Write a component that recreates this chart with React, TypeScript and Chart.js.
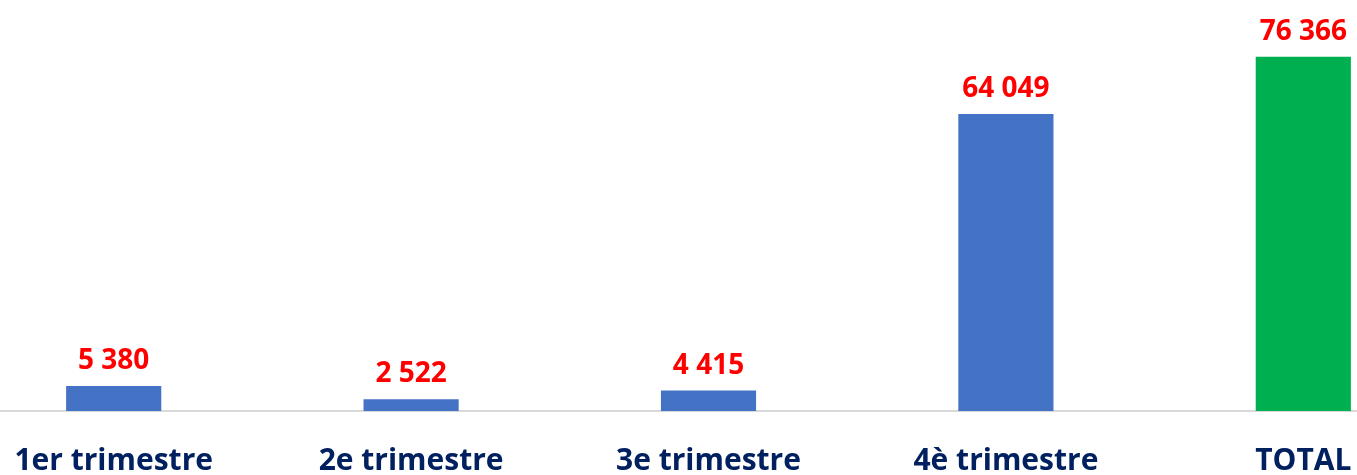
import React, { useEffect, useRef } from "react";
import { Chart, registerables } from "chart.js";

Chart.register(...registerables);

const categories = ["1er trimestre", "2e trimestre", "3e trimestre", "4è trimestre", "TOTAL"];
const values = [5380, 2522, 4415, 64049, 76366];
const valueLabels = ["5 380", "2 522", "4 415", "64 049", "76 366"];
const barColors = ["#4472C4", "#4472C4", "#4472C4", "#4472C4", "#00B050"];

const FONT = "'Open Sans', 'Noto Sans', sans-serif";

const labelPlugin = {
  id: "valueLabels",
  afterDatasetsDraw(chart: any) {
    const ctx = chart.ctx;
    const meta = chart.getDatasetMeta(0);
    ctx.save();
    ctx.fillStyle = "#FF0000";
    ctx.font = `bold 28px ${FONT}`;
    ctx.textAlign = "center";
    ctx.textBaseline = "alphabetic";
    meta.data.forEach((bar: any, i: number) => {
      ctx.fillText(valueLabels[i], bar.x, bar.y - 17);
    });
    ctx.restore();
  },
};

export default function App() {
  const ref = useRef<HTMLCanvasElement>(null);
  useEffect(() => {
    const chart = new Chart(ref.current!, {
      type: "bar",
      data: {
        labels: categories,
        datasets: [
          {
            data: values,
            backgroundColor: barColors,
            barPercentage: 0.64,
            categoryPercentage: 0.5,
          },
        ],
      },
      options: {
        animation: false,
        responsive: false,
        maintainAspectRatio: false,
        layout: { padding: { top: 40, left: 0, right: 0, bottom: 0 } },
        plugins: { legend: { display: false }, tooltip: { enabled: false } },
        scales: {
          x: {
            grid: { display: false },
            border: { display: true, color: "#d9d9d9", width: 2 },
            ticks: {
              color: "#002060",
              font: { family: FONT, size: 30, weight: "bold" },
              padding: 24,
              maxRotation: 0,
              autoSkip: false,
            },
          },
          y: {
            display: false,
            min: 0,
            max: 80000,
          },
        },
      },
      plugins: [labelPlugin],
    });
    return () => chart.destroy();
  }, []);
  return (
    <div style={{ position: "fixed", left: 0, top: 0, width: 1357, height: 475, overflow: "hidden", background: "#fff" }}>
      <canvas ref={ref} width={1487} height={503} style={{ position: "absolute", left: -35, top: 0, width: 1487, height: 503 }} />
    </div>
  );
}
